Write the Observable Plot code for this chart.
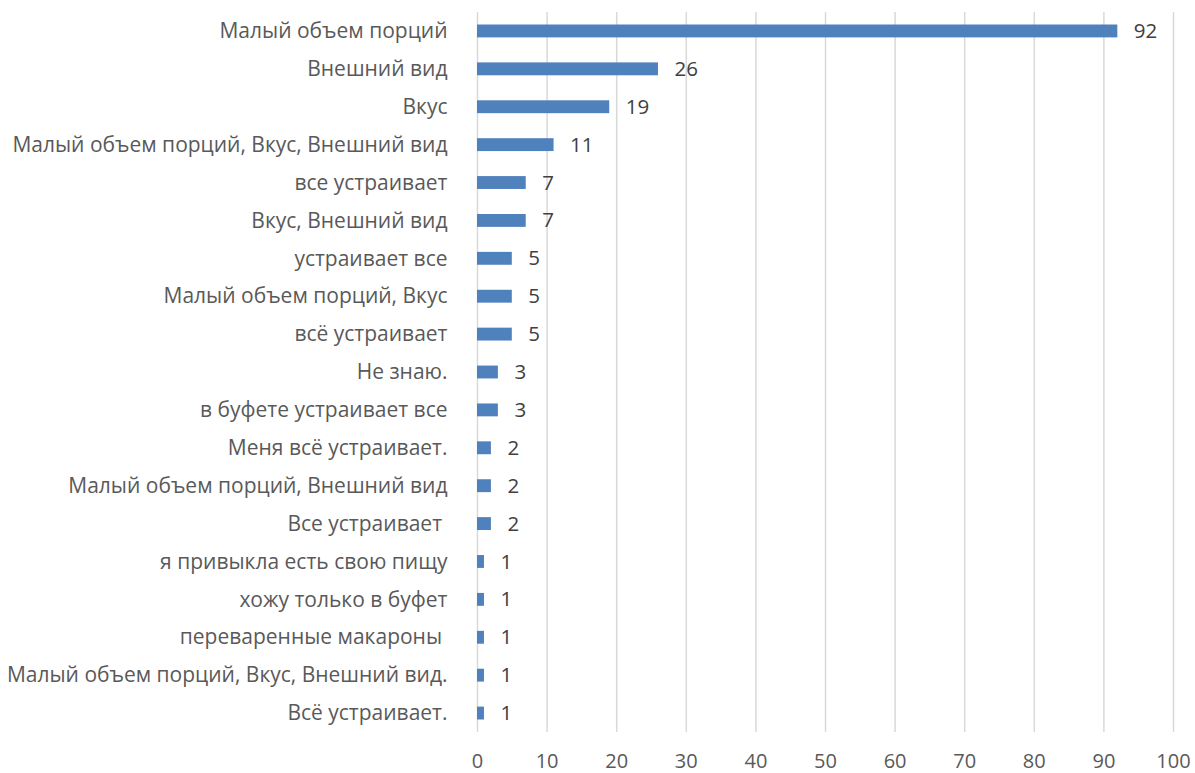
<!DOCTYPE html>
<html>
<head>
<meta charset="utf-8">
<script src="https://cdn.jsdelivr.net/npm/d3@7"></script>
<script src="https://cdn.jsdelivr.net/npm/@observablehq/plot@0.6"></script>
<style>
  html, body { margin: 0; padding: 0; background: #fff; }
  #chart svg { display: block; }
</style>
</head>
<body>
<div id="chart"></div>
<script>
const categories = [
  "Малый объем порций",
  "Внешний вид",
  "Вкус",
  "Малый объем порций, Вкус, Внешний вид",
  "все устраивает",
  "Вкус, Внешний вид",
  "устраивает все",
  "Малый объем порций, Вкус",
  "всё устраивает",
  "Не знаю.",
  "в буфете устраивает все",
  "Меня всё устраивает.",
  "Малый объем порций, Внешний вид",
  "Все устраивает ",
  "я привыкла есть свою пищу",
  "хожу только в буфет",
  "переваренные макароны ",
  "Малый объем порций, Вкус, Внешний вид.",
  "Всё устраивает."
];
const values = [92, 26, 19, 11, 7, 7, 5, 5, 5, 3, 3, 2, 2, 2, 1, 1, 1, 1, 1];
const xTicks = [0, 10, 20, 30, 40, 50, 60, 70, 80, 90, 100];

const data = categories.map((c, i) => ({category: c, value: values[i]}));

const chart = Plot.plot({
  width: 1195,
  height: 773,
  marginLeft: 477,
  marginRight: 22,
  marginTop: 12,
  marginBottom: 41,
  style: {fontFamily: "'Open Sans', sans-serif", fontSize: "20px", color: "#595959", background: "#fff"},
  x: {domain: [0, 100], ticks: xTicks},
  y: {domain: categories, paddingInner: 0.66, paddingOuter: 0.33, round: false},
  marks: [
    Plot.gridX(xTicks, {stroke: "#d9d9d9", strokeOpacity: 1, strokeWidth: 1.5}),
    Plot.barX(data, {x: "value", y: "category", fill: "#4f81bd"}),
    Plot.text(data, {x: "value", y: "category", text: d => String(d.value), textAnchor: "start", dx: 16, fill: "#404040", fontSize: 20.5}),
    Plot.axisX(xTicks, {tickSize: 0, tickPadding: 21, fill: "#595959", fontSize: 20, label: null}),
    Plot.axisY({tickSize: 0, tickPadding: 30, fill: "#595959", fontSize: 21, label: null})
  ]
});
document.getElementById("chart").appendChild(chart);
</script>
</body>
</html>
